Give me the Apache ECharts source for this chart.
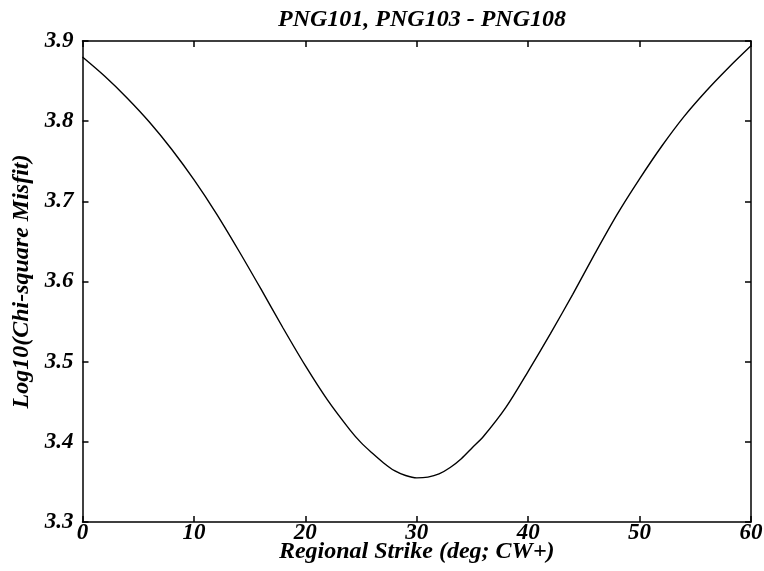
<!DOCTYPE html>
<html>
<head>
<meta charset="utf-8">
<script src="https://cdn.jsdelivr.net/npm/echarts@6/dist/echarts.min.js"></script>
<style>
  html, body { margin: 0; padding: 0; background: #fff; }
  #main { width: 764px; height: 571px; }
</style>
</head>
<body>
<div id="main"></div>
<script>
// strike angle (deg) and log10 misfit
var strike = [0, 2, 4, 6, 8, 10, 12, 14, 16, 18, 20, 22, 24, 25, 26, 27, 28, 29, 30,
              31, 32, 33, 34, 35, 36, 38, 40, 42, 44, 46, 48, 50, 52, 54, 56, 58, 60];
var misfit = [3.880, 3.856, 3.829, 3.799, 3.765, 3.727, 3.685, 3.639, 3.591, 3.542,
              3.495, 3.452, 3.415, 3.399, 3.386, 3.374, 3.364, 3.358, 3.355,
              3.356, 3.360, 3.368, 3.379, 3.393, 3.407, 3.443,
              3.488, 3.535, 3.584, 3.635, 3.684, 3.728, 3.769, 3.806, 3.838, 3.867, 3.894];
var xTicks = [0, 10, 20, 30, 40, 50, 60];
var yTicks = [3.3, 3.4, 3.5, 3.6, 3.7, 3.8, 3.9];

var font = 'Liberation Serif';
var chart = echarts.init(document.getElementById('main'));

var points = strike.map(function (s, i) { return [s, misfit[i]]; });

var boxLine = { show: true, onZero: false, lineStyle: { color: '#000', width: 1.5 } };
var inTick = { show: true, inside: true, length: 6, lineStyle: { color: '#000', width: 1.5 } };

var option = {
    backgroundColor: '#fff',
    animation: false,
    title: {
        text: 'PNG101, PNG103 - PNG108',
        left: 417,
        top: 3,
        textAlign: 'center',
        textStyle: { fontFamily: font, fontSize: 24, fontWeight: 'bold', fontStyle: 'italic', color: '#000' }
    },
    grid: { left: 82.5, right: 13, top: 41, bottom: 49, outerBoundsMode: 'none' },
    xAxis: [
        {
            type: 'value',
            min: xTicks[0],
            max: xTicks[xTicks.length - 1],
            interval: 10,
            name: 'Regional Strike (deg; CW+)',
            nameLocation: 'middle',
            nameGap: 18,
            nameMoveOverlap: false,
            nameTextStyle: { fontFamily: font, fontSize: 24, fontWeight: 'bold', fontStyle: 'italic', color: '#000' },
            axisLine: boxLine,
            axisTick: inTick,
            splitLine: { show: false },
            axisLabel: { margin: 0, fontFamily: font, fontSize: 23, fontWeight: 'bold', fontStyle: 'italic', color: '#000' }
        },
        {
            type: 'value',
            position: 'top',
            min: xTicks[0],
            max: xTicks[xTicks.length - 1],
            interval: 10,
            axisLine: boxLine,
            axisTick: inTick,
            splitLine: { show: false },
            axisLabel: { show: false }
        }
    ],
    yAxis: [
        {
            type: 'value',
            min: yTicks[0],
            max: yTicks[yTicks.length - 1],
            interval: 0.1,
            name: 'Log10(Chi-square Misfit)',
            nameLocation: 'middle',
            nameGap: 49,
            nameMoveOverlap: false,
            nameTextStyle: { fontFamily: font, fontSize: 24, fontWeight: 'bold', fontStyle: 'italic', color: '#000' },
            axisLine: boxLine,
            axisTick: inTick,
            splitLine: { show: false },
            axisLabel: {
                margin: 9,
                fontFamily: font, fontSize: 23, fontWeight: 'bold', fontStyle: 'italic', color: '#000',
                formatter: function (v) { return v.toFixed(1); }
            }
        },
        {
            type: 'value',
            position: 'right',
            min: yTicks[0],
            max: yTicks[yTicks.length - 1],
            interval: 0.1,
            axisLine: boxLine,
            axisTick: inTick,
            splitLine: { show: false },
            axisLabel: { show: false }
        }
    ],
    series: [
        {
            type: 'line',
            data: points,
            smooth: 0.3,
            showSymbol: false,
            lineStyle: { color: '#000', width: 1.4 }
        }
    ]
};
chart.setOption(option);
</script>
</body>
</html>
